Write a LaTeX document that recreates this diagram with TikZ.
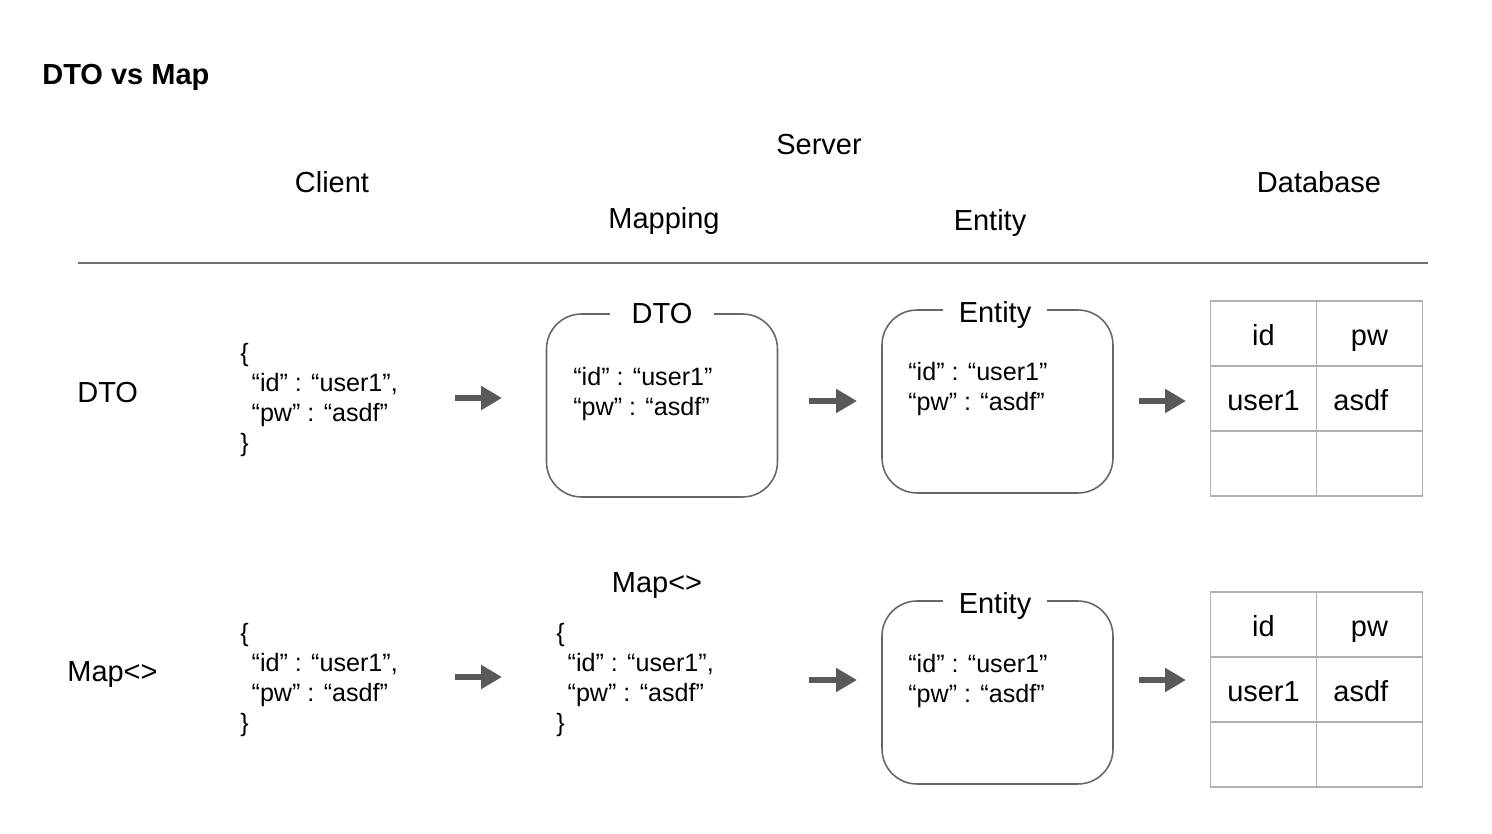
\documentclass[tikz,border=0pt]{standalone}
\usepackage{fontspec}
\setmainfont{Liberation Sans}
\usetikzlibrary{arrows.meta,matrix,positioning}

\definecolor{arrowgray}{HTML}{595959}
\definecolor{boxgray}{HTML}{666666}
\definecolor{rulegray}{HTML}{707070}
\definecolor{tablegray}{HTML}{B0B0B0}

\tikzset{
    label/.style={font=\fontsize{16.5}{19}\selectfont, text height=15pt, text depth=3pt},
    json/.style={font=\fontsize{14.3}{17}\selectfont, align=left, inner sep=0pt, anchor=west},
    flow/.style={draw=arrowgray, line width=3.4pt, -{Triangle[length=0.42cm,width=0.46cm]}},
    objbox/.style={draw=boxgray, line width=0.9pt, rounded corners=0.7cm,
        minimum width=4.62cm, minimum height=3.66cm},
    boxtitle/.style={label, fill=white, minimum width=2.1cm, inner ysep=1pt},
    dbcell/.style={draw=tablegray, line width=1.1pt, minimum width=2.12cm,
        minimum height=1.3cm, font=\fontsize{16.5}{19}\selectfont,
        text height=16pt, text depth=2pt, anchor=center},
}

\begin{document}
\begin{tikzpicture}[x=0.02cm,y=-0.02cm]
    \useasboundingbox (0,0) rectangle (1492,834);

    % headings
    \node[font=\fontsize{16.5}{19}\selectfont\bfseries, anchor=west, inner sep=0pt] (title) at (42,77) {DTO vs Map};
    \node[label] (server) at (819,144) {Server};
    \node[label] (client) at (332,182) {Client};
    \node[label] (database) at (1319,182) {Database};
    \node[label] (mapping) at (664,218) {Mapping};
    \node[label] (entity) at (990,220) {Entity};
    \coordinate (ruleL) at (78,263);
    \coordinate (ruleR) at (1428,263);
    \draw[rulegray, line width=0.9pt] (ruleL) -- (ruleR);

    % DTO row
    \node[label, anchor=west, inner sep=0pt] (rowdto) at (77,392) {DTO};
    \node[json] (jsondto) at (240,400) {\{\\\hspace*{0.45em}“id” : “user1”,\\\hspace*{0.45em}“pw” : “asdf”\\\}};
    \node[objbox] (dtobox) at (662,405.5) {};
    \node[boxtitle] (dtotitle) at (dtobox.north) {DTO};
    \node[json] (dtobody) at (573,394) {“id” : “user1”\\“pw” : “asdf”};
    \node[objbox] (entbox1) at (997.5,401.5) {};
    \node[boxtitle] (enttitle1) at (995,312) {Entity};
    \node[json] (entbody1) at (908,389) {“id” : “user1”\\“pw” : “asdf”};
    \matrix (db1) [matrix of nodes, nodes in empty cells, nodes={dbcell},
        column sep=-1.1pt, row sep=-1.1pt, inner sep=0pt] at (1316.5,398.5) {
        id & pw \\
        user1 & asdf\hspace*{0.6em} \\
        & \\
    };

    \coordinate (d1s) at (455,398);  \coordinate (d1e) at (502,398);
    \coordinate (d2s) at (809,401);  \coordinate (d2e) at (857,401);
    \coordinate (d3s) at (1139,401); \coordinate (d3e) at (1186,401);
    \draw[flow] (d1s) -- (d1e);
    \draw[flow] (d2s) -- (d2e);
    \draw[flow] (d3s) -- (d3e);

    % Map row
    \node[label, anchor=west, inner sep=0pt] (rowmap) at (67,671) {Map<>};
    \node[json] (jsonmap) at (240,680) {\{\\\hspace*{0.45em}“id” : “user1”,\\\hspace*{0.45em}“pw” : “asdf”\\\}};
    \node[label] (maptitle) at (657,582) {Map<>};
    \node[json] (mapbody) at (556,680) {\{\\\hspace*{0.45em}“id” : “user1”,\\\hspace*{0.45em}“pw” : “asdf”\\\}};
    \node[objbox] (entbox2) at (997.5,692.5) {};
    \node[boxtitle] (enttitle2) at (995,603) {Entity};
    \node[json] (entbody2) at (908,681) {“id” : “user1”\\“pw” : “asdf”};
    \matrix (db2) [matrix of nodes, nodes in empty cells, nodes={dbcell},
        column sep=-1.1pt, row sep=-1.1pt, inner sep=0pt] at (1316.5,689.5) {
        id & pw \\
        user1 & asdf\hspace*{0.6em} \\
        & \\
    };

    \coordinate (m1s) at (455,677);  \coordinate (m1e) at (502,677);
    \coordinate (m2s) at (809,680);  \coordinate (m2e) at (857,680);
    \coordinate (m3s) at (1139,680); \coordinate (m3e) at (1186,680);
    \draw[flow] (m1s) -- (m1e);
    \draw[flow] (m2s) -- (m2e);
    \draw[flow] (m3s) -- (m3e);
\end{tikzpicture}
\end{document}
